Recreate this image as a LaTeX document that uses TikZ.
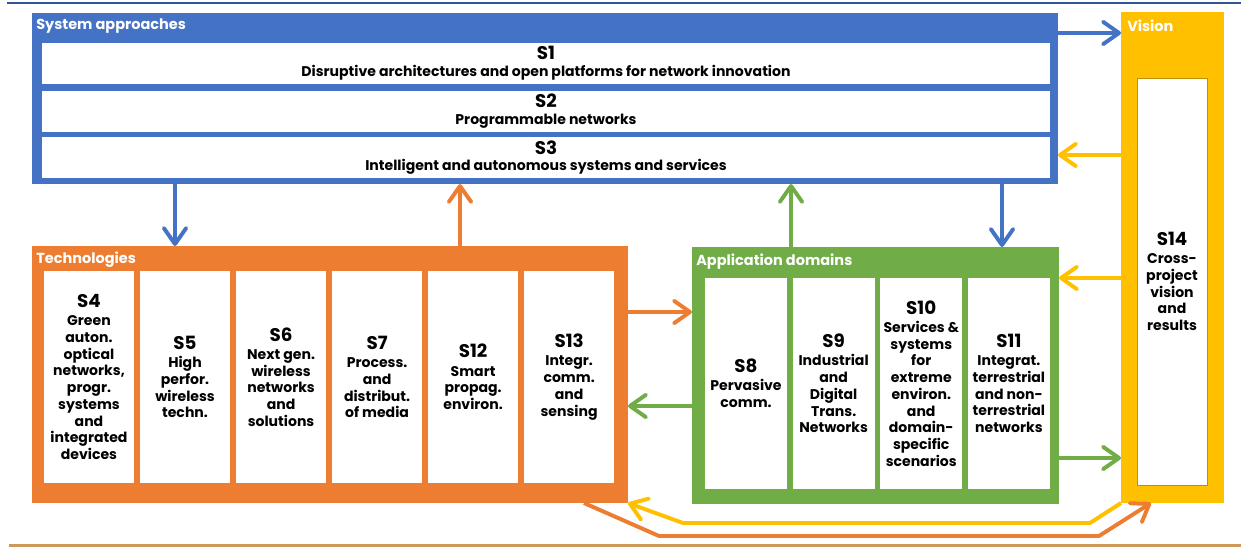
\documentclass[tikz,border=0pt]{standalone}
\usepackage{fontspec}
\setmainfont{Poppins}
\usepackage{tikz}
\usetikzlibrary{arrows.meta,positioning,fit}
\definecolor{sysblue}{HTML}{4472C4}
\definecolor{techorange}{HTML}{ED7D31}
\definecolor{appgreen}{HTML}{70AD47}
\definecolor{visiongold}{HTML}{FFC000}
\definecolor{innergold}{HTML}{BF9000}
\definecolor{topblue}{RGB}{47,85,151}
\definecolor{bottomtan}{RGB}{204,153,88}
\newcommand{\descfont}{\fontsize{10}{11.9}\selectfont\bfseries}
\newcommand{\snum}[1]{{\fontsize{13}{14}\selectfont #1}}
\tikzset{
  group/.style={inner sep=0pt, outer sep=0pt},
  grouptitle/.style={anchor=west, text=white, inner sep=0pt, font=\fontsize{10.3}{12}\selectfont\bfseries},
  sysrow/.style={fill=white, minimum width=25.2cm, minimum height=1.025cm, inner sep=0pt, outer sep=0pt, align=center, font=\descfont},
  techcol/.style={fill=white, minimum width=2.25cm, minimum height=5.3cm, inner sep=0pt, outer sep=0pt, align=center, font=\descfont},
  appcol/.style={fill=white, minimum width=2.05cm, minimum height=5.275cm, inner sep=0pt, outer sep=0pt, align=center, font=\descfont},
  visinner/.style={fill=white, draw=innergold, line width=0.6pt, minimum width=1.75cm, minimum height=10.175cm, inner sep=0pt, align=center, font=\descfont},
  flow/.style={line width=2.8pt, line join=round, -{Straight Barb[length=4mm,width=5.6mm,round]}}
}
\begin{document}
\begin{tikzpicture}[x=0.025cm, y=-0.025cm]
\useasboundingbox (0,0) rectangle (1241,548);
% rules at top and bottom
\draw[topblue, line width=2pt] (7,3) -- (1241,3);
\draw[bottomtan, line width=2.2pt] (9,545.5) -- (1241,545.5);

% group frames
\node[group, fill=sysblue, fit={(32,13) (1058,184)}] (sys) {};
\node[group, fill=techorange, fit={(32,246) (628,503)}] (tech) {};
\node[group, fill=appgreen, fit={(692,247) (1059,504)}] (app) {};
\node[group, fill=visiongold, fit={(1121,12) (1224,503)}] (vis) {};
\node[grouptitle] (systitle) at (36,26) {System approaches};
\node[grouptitle] (techtitle) at (36,260) {Technologies};
\node[grouptitle] (apptitle) at (696,262) {Application domains};
\node[grouptitle] (vistitle) at (1127,26) {Vision};

% system approaches
\node[sysrow] (s1) at (546,63.5) {\snum{S1}\\ Disruptive architectures and open platforms for network innovation};
\node[sysrow] (s2) at (546,111) {\snum{S2}\\ Programmable networks};
\node[sysrow] (s3) at (546,157.5) {\snum{S3}\\ Intelligent and autonomous systems and services};

% technologies
\node[techcol] (s4) at (89,377) {\snum{S4}\\[1pt] Green\\auton.\\optical\\networks,\\progr.\\systems\\and\\integrated\\devices};
\node[techcol, right=0.15cm of s4] (s5) {\snum{S5}\\[1pt] High\\perfor.\\wireless\\techn.};
\node[techcol, right=0.15cm of s5] (s6) {\snum{S6}\\[1pt] Next gen.\\wireless\\networks\\and\\solutions};
\node[techcol, right=0.15cm of s6] (s7) {\snum{S7}\\[1pt] Process.\\and\\distribut.\\of media};
\node[techcol, right=0.15cm of s7] (s12) {\snum{S12}\\[1pt] Smart\\propag.\\environ.};
\node[techcol, right=0.15cm of s12] (s13) {\snum{S13}\\[1pt] Integr.\\comm.\\and\\sensing};

% application domains
\node[appcol] (s8) at (746,383.5) {\snum{S8}\\[1pt] Pervasive\\comm.};
\node[appcol, right=0.14cm of s8] (s9) {\snum{S9}\\[1pt] Industrial\\and\\Digital\\Trans.\\Networks};
\node[appcol, right=0.14cm of s9] (s10) {\snum{S10}\\[1pt] Services \&\\systems\\for\\extreme\\environ.\\and\\domain-\\specific\\scenarios};
\node[appcol, right=0.14cm of s10] (s11) {\snum{S11}\\[1pt] Integrat.\\terrestrial\\and non-\\terrestrial\\networks};

% vision
\node[visinner] (s14) at (1172,281.5) {\snum{S14}\\[1pt] Cross-\\project\\vision\\and\\results};

% helper points for the connectors
\coordinate (xa) at (175,0);
\coordinate (xb) at (460,0);
\coordinate (xc) at (791,0);
\coordinate (xd) at (1002,0);
\coordinate (xe) at (584,0);
\coordinate (xf) at (1151,0);
\coordinate (ya) at (0,33);
\coordinate (yb) at (0,155);
\coordinate (yc) at (0,278);
\coordinate (yd) at (0,458);
\coordinate (ye) at (0,312);
\coordinate (yf) at (0,406);

% connectors
\draw[flow, sysblue] (sys.south -| xa) -- (tech.north -| xa);
\draw[flow, techorange] (tech.north -| xb) -- (sys.south -| xb);
\draw[flow, appgreen] (app.north -| xc) -- (sys.south -| xc);
\draw[flow, sysblue] (sys.south -| xd) -- (app.north -| xd);
\draw[flow, sysblue] (sys.east |- ya) -- (vis.west |- ya);
\draw[flow, visiongold] (vis.west |- yb) -- (sys.east |- yb);
\draw[flow, visiongold] (vis.west |- yc) -- (app.east |- yc);
\draw[flow, appgreen] (app.east |- yd) -- (vis.west |- yd);
\draw[flow, techorange] (tech.east |- ye) -- (app.west |- ye);
\draw[flow, appgreen] (app.west |- yf) -- (tech.east |- yf);
\draw[flow, visiongold] (vis.south west) -- (1090,523) -- (683,523) -- (tech.south east);
\draw[flow, techorange] (tech.south -| xe) -- (659,536) -- (1099,536) -- (vis.south -| xf);
\end{tikzpicture}
\end{document}
